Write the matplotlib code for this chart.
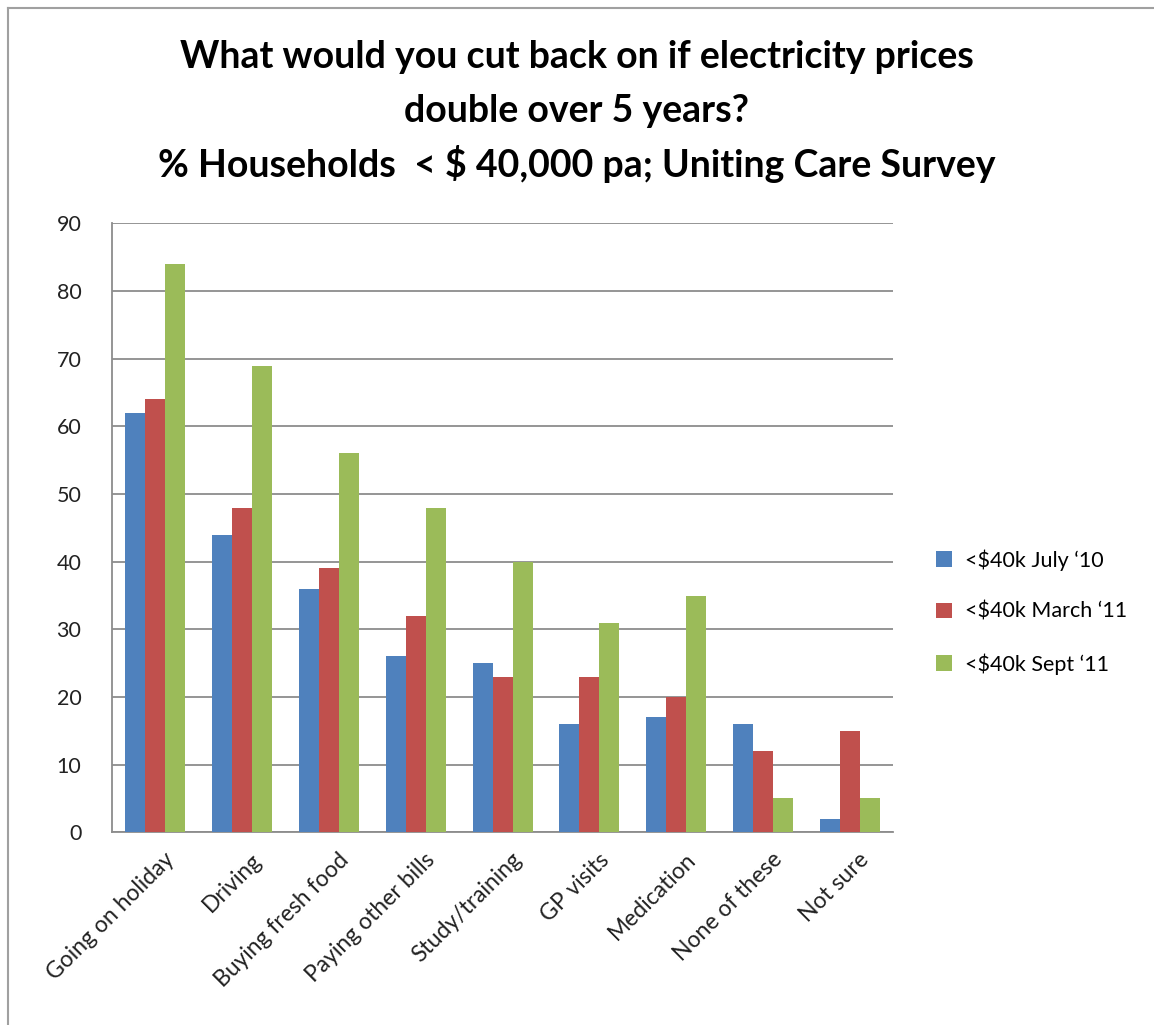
import matplotlib.pyplot as plt
import numpy as np
from matplotlib.lines import Line2D

plt.rcParams['font.family'] = ['Lato', 'DejaVu Sans']

categories = ['Going on holiday', 'Driving', 'Buying fresh food', 'Paying other bills',
              'Study/training', 'GP visits', 'Medication', 'None of these', 'Not sure']
july10 = [62, 44, 36, 26, 25, 16, 17, 16, 2]
march11 = [64, 48, 39, 32, 23, 23, 20, 12, 15]
sept11 = [84, 69, 56, 48, 40, 31, 35, 5, 5]
series_names = ["<$40k July \u201810", "<$40k March \u201811", "<$40k Sept \u201811"]
colors = ['#4f81bd', '#c0504d', '#9bbb59']

fig = plt.figure(figsize=(11.54, 10.25), dpi=100)
ax = fig.add_axes([0.097, 0.188, 0.677, 0.594])

x = np.arange(len(categories))
w = 0.23
for i, (vals, name, c) in enumerate(zip([july10, march11, sept11], series_names, colors)):
    ax.bar(x + (i - 1) * w, vals, w, color=c, label=name, zorder=3)

ax.set_xlim(-0.5, len(categories) - 0.5)
ax.set_ylim(0, 90)
ax.set_yticks(range(0, 91, 10))
ax.yaxis.grid(True, color='#8c8c8c', linewidth=1.3, zorder=0)
ax.set_axisbelow(True)
for s in ['top', 'right']:
    ax.spines[s].set_visible(False)
ax.spines['left'].set_color('#8c8c8c')
ax.spines['bottom'].set_color('#8c8c8c')
ax.spines['left'].set_linewidth(1.3)
ax.spines['bottom'].set_linewidth(1.3)
ax.tick_params(axis='y', length=0, labelsize=15.5, pad=22, labelcolor='#222222')
ax.tick_params(axis='x', length=0, labelsize=16.5, pad=12, labelcolor='#222222')
ax.set_xticks(x + 0.1)
ax.set_xticklabels(categories, rotation=45, ha='right', rotation_mode='anchor')

fig.text(0.5, 0.944, 'What would you cut back on if electricity prices', ha='center', va='center',
         fontsize=27, fontweight='bold')
fig.text(0.5, 0.892, 'double over 5 years?', ha='center', va='center',
         fontsize=27, fontweight='bold')
fig.text(0.5, 0.840, '% Households  < $ 40,000 pa; Uniting Care Survey', ha='center', va='center',
         fontsize=27, fontweight='bold')

ax.legend(loc='center left', bbox_to_anchor=(1.03, 0.362), frameon=False, fontsize=15.5,
          handlelength=0.75, handleheight=0.75, labelspacing=1.45, handletextpad=0.6)

# outer frame
fig.add_artist(Line2D([0.007, 0.007], [0.0, 0.992], color='#a0a0a0', linewidth=1.5))
fig.add_artist(Line2D([0.007, 1.0], [0.992, 0.992], color='#a0a0a0', linewidth=1.5))

fig.savefig('out.png', dpi=100)
